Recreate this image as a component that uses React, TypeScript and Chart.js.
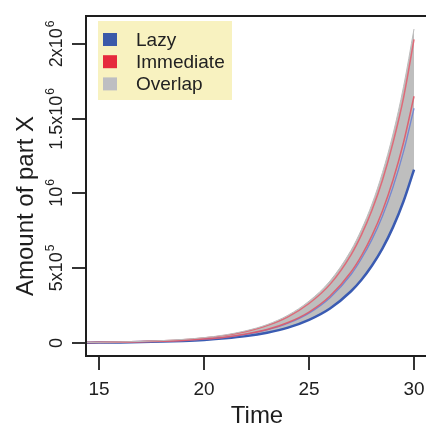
import React, { useEffect, useRef } from "react";
import { Chart, registerables } from "chart.js";

Chart.register(...registerables);

const times = [14.4, 15, 16, 17, 18, 19, 20, 21, 22, 23, 24, 25, 26, 27, 27.5, 28, 28.5, 29, 29.5, 30];
const overlapTop = [3600, 4700, 7000, 10500, 16000, 24000, 36000, 54000, 82000, 123000, 186000, 280000, 415000, 620000, 760000, 930000, 1141000, 1398000, 1714000, 2100000];
const immediateUpper = [3400, 4400, 6600, 10000, 15000, 22000, 34000, 51000, 77000, 116000, 175000, 264000, 392000, 590000, 725000, 890000, 1090000, 1340000, 1640000, 2030000];
const immediateMid = [2600, 3300, 5000, 7500, 11400, 17000, 26000, 39000, 60000, 90000, 137000, 207000, 314000, 475000, 585000, 720000, 885000, 1090000, 1341000, 1650000];
const lazyMid = [2500, 3200, 4900, 7300, 11000, 16500, 25000, 38000, 58000, 87000, 132000, 200000, 303000, 458000, 565000, 693000, 850000, 1043000, 1280000, 1570000];
const lazyLower = [2100, 2700, 4100, 6100, 9200, 13800, 20600, 31000, 46000, 69000, 103000, 155000, 231000, 346000, 423000, 518000, 633000, 775000, 948000, 1160000];

const xTicks = [15, 20, 25, 30];
const yTicks = [0, 500000, 1000000, 1500000, 2000000];
const yTickBase = ["0", "5x10", "10", "1.5x10", "2x10"];
const yTickSup = ["", "5", "6", "6", "6"];
const legendLabels = ["Lazy", "Immediate", "Overlap"];
const legendColors = ["#3b5aa9", "#e62a3c", "#bdbec2"];

const FONT = '"Liberation Sans", Arial, Helvetica, sans-serif';

const pts = (ys: number[]) => times.map((t, i) => ({ x: t, y: ys[i] }));

const axesPlugin = {
  id: "rAxes",
  afterDatasetsDraw(chart: any) {
    const { ctx, chartArea, scales } = chart;
    const xs = scales.x;
    const ys = scales.y;
    const L = chartArea.left;
    const T = chartArea.top;
    const B = chartArea.bottom;
    const R = chartArea.right + 4;
    ctx.save();
    ctx.strokeStyle = "#1e1e1e";
    ctx.lineWidth = 2;
    ctx.beginPath();
    ctx.moveTo(R, T);
    ctx.lineTo(L, T);
    ctx.lineTo(L, B);
    ctx.lineTo(R, B);
    ctx.stroke();

    // x ticks
    ctx.lineWidth = 1.8;
    ctx.fillStyle = "#1e1e1e";
    ctx.font = `19px ${FONT}`;
    ctx.textAlign = "center";
    ctx.textBaseline = "alphabetic";
    xTicks.forEach((v) => {
      const px = Math.round(xs.getPixelForValue(v));
      ctx.beginPath();
      ctx.moveTo(px, B);
      ctx.lineTo(px, B + 14);
      ctx.stroke();
      ctx.fillText(String(v), px, 395);
    });

    // y ticks
    yTicks.forEach((v, i) => {
      const py = Math.round(ys.getPixelForValue(v));
      ctx.beginPath();
      ctx.moveTo(L, py);
      ctx.lineTo(L - 14, py);
      ctx.stroke();
      ctx.save();
      ctx.translate(62, py);
      ctx.rotate(-Math.PI / 2);
      ctx.font = `18px ${FONT}`;
      const wb = ctx.measureText(yTickBase[i]).width;
      ctx.font = `12px ${FONT}`;
      const wsup = yTickSup[i] ? ctx.measureText(yTickSup[i]).width + 1 : 0;
      const start = -(wb + wsup) / 2;
      ctx.textAlign = "left";
      ctx.font = `18px ${FONT}`;
      ctx.fillText(yTickBase[i], start, 0);
      if (yTickSup[i]) {
        ctx.font = `12px ${FONT}`;
        ctx.fillText(yTickSup[i], start + wb + 1, -8);
      }
      ctx.restore();
    });

    // axis titles
    ctx.font = `24px ${FONT}`;
    ctx.textAlign = "center";
    ctx.fillText("Time", 257, 423);
    ctx.save();
    ctx.translate(33, 206);
    ctx.rotate(-Math.PI / 2);
    ctx.fillText("Amount of part X", 0, 0);
    ctx.restore();

    // legend
    ctx.fillStyle = "#f8f2c0";
    ctx.fillRect(98, 21, 134, 79);
    ctx.font = `19px ${FONT}`;
    ctx.textAlign = "left";
    legendLabels.forEach((lab, i) => {
      const base = 46 + i * 22.2;
      ctx.fillStyle = legendColors[i];
      ctx.fillRect(103, base - 13, 14, 13);
      ctx.fillStyle = "#222";
      ctx.fillText(lab, 136, base);
    });
    ctx.restore();
  },
};

export default function App() {
  const ref = useRef<HTMLCanvasElement | null>(null);
  useEffect(() => {
    if (!ref.current) return;
    const common = { pointRadius: 0, cubicInterpolationMode: "monotone" as const };
    const chart = new Chart(ref.current, {
      type: "line",
      data: {
        datasets: [
          {
            label: "Overlap",
            data: pts(overlapTop),
            borderColor: "#bdbdbd",
            borderWidth: 1,
            backgroundColor: "#bebebe",
            fill: 4,
            ...common,
          },
          {
            label: "Immediate upper",
            data: pts(immediateUpper),
            borderColor: "rgba(226,96,112,0.9)",
            borderWidth: 1.5,
            fill: false,
            ...common,
          },
          {
            label: "Immediate",
            data: pts(immediateMid),
            borderColor: "rgba(222,88,104,0.9)",
            borderWidth: 1.5,
            fill: false,
            ...common,
          },
          {
            label: "Lazy",
            data: pts(lazyMid),
            borderColor: "rgba(110,130,210,0.9)",
            borderWidth: 1.3,
            fill: false,
            ...common,
          },
          {
            label: "Lazy lower",
            data: pts(lazyLower),
            borderColor: "#3a5bb2",
            borderWidth: 2.5,
            fill: false,
            ...common,
          },
        ],
      },
      options: {
        animation: false,
        responsive: false,
        events: [],
        layout: { padding: { left: 86, top: 16, right: 0, bottom: 69 } },
        scales: {
          x: { type: "linear", min: 14.38, max: 30.57, display: false },
          y: { type: "linear", min: -87000, max: 2187000, display: false },
        },
        plugins: {
          legend: { display: false },
          tooltip: { enabled: false },
          filler: { drawTime: "beforeDatasetsDraw" },
        },
      },
      plugins: [axesPlugin],
    });
    return () => chart.destroy();
  }, []);
  return (
    <div style={{ position: "fixed", left: 0, top: 0, width: 426, height: 425, background: "#fff" }}>
      <canvas ref={ref} width={426} height={425} style={{ display: "block" }} />
    </div>
  );
}
